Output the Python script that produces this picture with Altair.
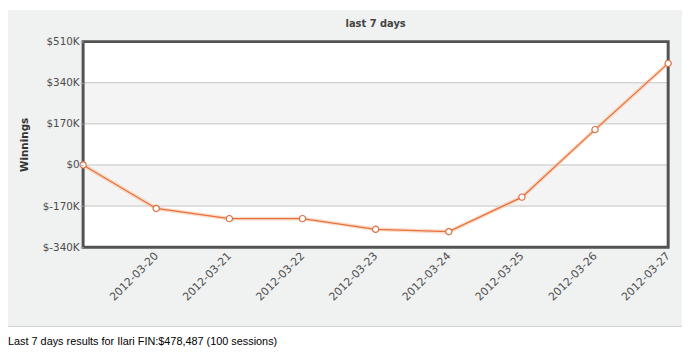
import altair as alt
import pandas as pd

# ---- data ----
dates = ["2012-03-19", "2012-03-20", "2012-03-21", "2012-03-22", "2012-03-23",
         "2012-03-24", "2012-03-25", "2012-03-26", "2012-03-27"]
winnings_k = [0, -180, -222, -222, -266, -276, -133, 146, 420]
y_ticks = [-340, -170, 0, 170, 340, 510]
band_lo = [170, -170]
band_hi = [340, 0]
chart_title = "last 7 days"
y_title = "Winnings"
footer = "Last 7 days results for Ilari FIN:$478,487 (100 sessions)"

W, H = 592, 208
FONT = "DejaVu Sans"

df = pd.DataFrame({"date": dates, "win": winnings_k})
bands = pd.DataFrame({"lo": band_lo, "hi": band_hi})
grid = pd.DataFrame({"t": y_ticks})
one = alt.Data(values=[{"k": 1}])

xscale = alt.Scale(type="point", padding=0, domain=dates)
yscale = alt.Scale(domain=[y_ticks[0], y_ticks[-1]], nice=False, zero=False)
yaxis = alt.Axis(values=y_ticks,
                 labelExpr="datum.value == 0 ? '$0' : '$' + datum.value + 'K'",
                 tickSize=3, tickColor="#aaaaaa", labelPadding=1,
                 domain=False, grid=False, title=y_title, zindex=1,
                 titleFont=FONT, titleFontSize=10.5, titleFontWeight="bold",
                 titleColor="#333333", titlePadding=13,
                 labelFont=FONT, labelFontSize=10.5, labelColor="#4d4d4d")

panel = alt.Chart(one).mark_rect(color="#f0f1f1").encode(
    x=alt.value(-76), x2=alt.value(W + 14), y=alt.value(-32), y2=alt.value(287))
panel_edge = alt.Chart(one).mark_rule(color="#c6c6c6", strokeWidth=1).encode(
    x=alt.value(-76), x2=alt.value(W + 14), y=alt.value(288))
plot_bg = alt.Chart(one).mark_rect(color="#ffffff").encode(
    x=alt.value(0), x2=alt.value(W), y=alt.value(0), y2=alt.value(H))
band_layer = alt.Chart(bands).mark_rect(color="#f4f4f4").encode(
    x=alt.value(0), x2=alt.value(W),
    y=alt.Y("lo:Q", scale=yscale, axis=yaxis, title=y_title), y2="hi:Q")
grid_layer = alt.Chart(grid).mark_rule(color="#c4c4c4", strokeWidth=1).encode(
    x=alt.value(0), x2=alt.value(W),
    y=alt.Y("t:Q", scale=yscale, axis=yaxis, title=y_title))
border = alt.Chart(one).mark_rect(fill=None, stroke="#535353", strokeWidth=3).encode(
    x=alt.value(0), x2=alt.value(W), y=alt.value(0), y2=alt.value(H))

base = alt.Chart(df).encode(
    x=alt.X("date:O", scale=xscale,
            axis=alt.Axis(values=dates[1:], labelAngle=-45, labelAlign="right",
                          labelBaseline="middle", labelPadding=7, ticks=False,
                          domain=False, grid=False, title=None, zindex=1,
                          labelFont=FONT, labelFontSize=11, labelColor="#4d4d4d")),
    y=alt.Y("win:Q", scale=yscale, axis=yaxis, title=y_title),
)
glow = base.mark_line(color="#f6c4a6", strokeWidth=4, opacity=0.6)
line = base.mark_line(color="#e8703a", strokeWidth=1.3)
points = base.mark_point(shape="circle", filled=True, fill="#ffffff",
                         stroke="#d9703f", strokeWidth=1.2, size=40, opacity=1)

title_mark = alt.Chart(one).mark_text(text=chart_title, align="center", baseline="middle",
                                      font=FONT, fontSize=10, fontWeight="bold",
                                      color="#444444").encode(
    x=alt.value(W / 2), y=alt.value(-18))

foot = alt.Chart(one).mark_text(text=footer, align="left", baseline="middle",
                                font="Liberation Sans", fontSize=11, color="#000000").encode(
    x=alt.value(-76), y=alt.value(304))

chart = alt.layer(panel, panel_edge, plot_bg, band_layer, grid_layer, border,
                  glow, line, points, title_mark, foot).properties(
    width=W, height=H,
    autosize=alt.AutoSizeParams(type="none"),
    padding={"left": 76, "top": 32, "right": 14, "bottom": 100},
    background="#ffffff",
).configure_view(stroke=None)

chart.save("out.html", embed_options={"renderer": "svg", "actions": False})
